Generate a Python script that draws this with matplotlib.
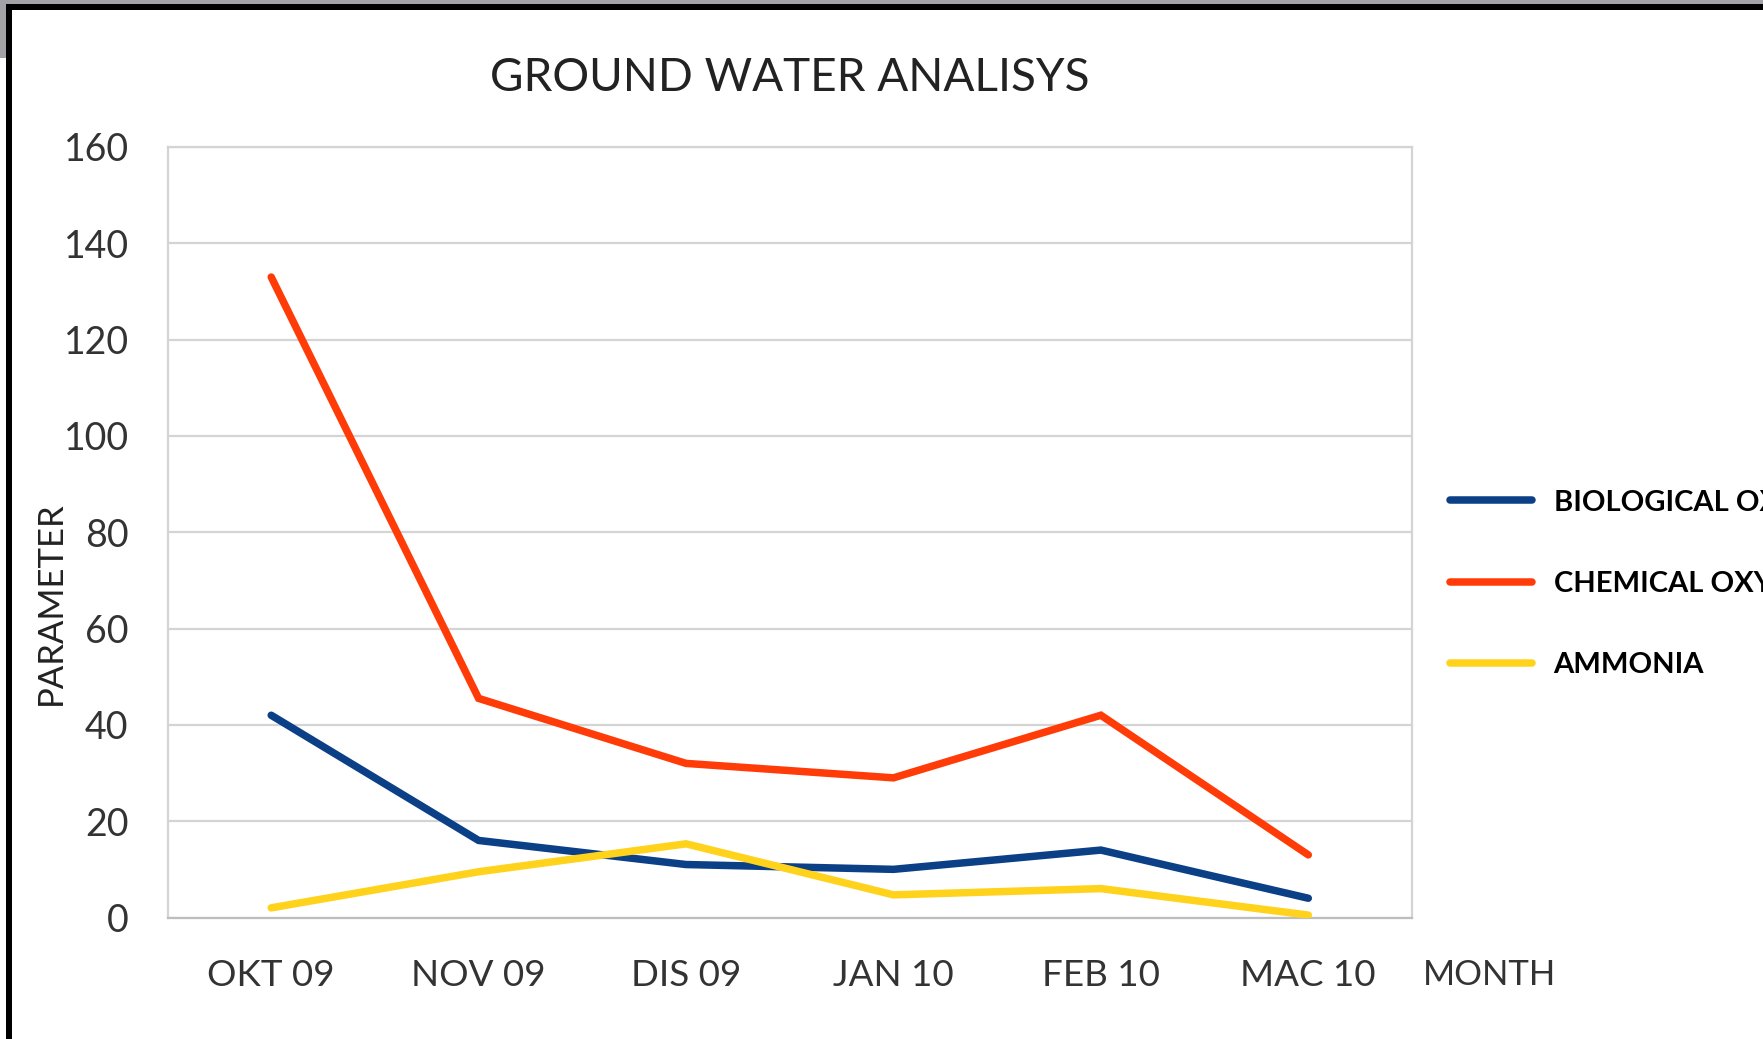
import numpy as np
import matplotlib
matplotlib.use("Agg")
import matplotlib.pyplot as plt
from matplotlib.patches import Rectangle

# Data
months = ["OKT 09", "NOV 09", "DIS 09", "JAN 10", "FEB 10", "MAC 10"]
bod = [42, 16, 11, 10, 14, 4]
cod = [133, 45.5, 32, 29, 42, 13]
ammonia = [2, 9.5, 15.3, 4.7, 6, 0.5]
series_labels = ["BIOLOGICAL OXYGEN DEMAND", "CHEMICAL OXYGEN DEMAND", "AMMONIA"]
y_ticks = [0, 20, 40, 60, 80, 100, 120, 140, 160]

colours = ["#0b3f86", "#ff3c07", "#ffd21c"]

plt.rcParams['font.family'] = ['Lato', 'DejaVu Sans']

W, H = 1763, 1039
fig = plt.figure(figsize=(W / 100, H / 100), dpi=100)
fig.patch.set_facecolor("white")

# screenshot frame: grey strip above, black border top and left
fig.patches.append(Rectangle((0, 1 - 4 / H), 1, 4 / H, transform=fig.transFigure,
                             facecolor="#a3a3a7", edgecolor="none", zorder=0))
fig.patches.append(Rectangle((0, 1 - 58 / H), 6 / W, 58 / H, transform=fig.transFigure,
                             facecolor="#a3a3a7", edgecolor="none", zorder=0))
fig.patches.append(Rectangle((6 / W, 1 - 10 / H), 1, 6 / H, transform=fig.transFigure,
                             facecolor="black", edgecolor="none", zorder=1))
fig.patches.append(Rectangle((6 / W, 0), 6 / W, 1 - 4 / H, transform=fig.transFigure,
                             facecolor="black", edgecolor="none", zorder=1))

left, right = 167.5 / W, 1412 / W
bottom, top = 1 - 917.5 / H, 1 - 147 / H
ax = fig.add_axes([left, bottom, right - left, top - bottom])

x = np.arange(len(months))
lines = []
for vals, col, lab in zip([bod, cod, ammonia], colours, series_labels):
    ln, = ax.plot(x, vals, color=col, lw=5.4, solid_capstyle="round",
                  solid_joinstyle="miter", label=lab, zorder=3)
    lines.append(ln)

ax.set_xlim(-0.5, len(months) - 0.5)
ax.set_ylim(0, 160)
ax.set_yticks(y_ticks)
ax.set_xticks(x)
ax.set_xticklabels(months)
ax.tick_params(axis="y", length=0, pad=28, labelsize=27, labelcolor="#333333")
ax.tick_params(axis="x", length=0, pad=30, labelsize=26.5, labelcolor="#333333")
ax.grid(axis="y", color="#d4d4d4", lw=1.6, zorder=1)
for s in ax.spines.values():
    s.set_color("#d4d4d4")
    s.set_linewidth(1.6)
ax.spines["bottom"].set_color("#bdbdbd")

ax.set_title("GROUND WATER ANALISYS", fontsize=33, color="#222222", pad=40)

fig.text(1490 / W, 1 - 975 / H, "MONTH", fontsize=25, color="#333333",
         ha="center", va="center")
fig.text(51 / W, 1 - 603 / H, "PARAMETER", fontsize=25, color="#222222",
         rotation=90, ha="center", va="center")

# legend runs past the right edge, as in the screenshot
leg = fig.legend(handles=lines, loc="center left", bbox_to_anchor=(1450 / W, 1 - 584 / H),
                 bbox_transform=fig.transFigure, frameon=False, prop={"weight": "bold", "size": 21},
                 handlelength=2.8, handletextpad=0.75, labelspacing=1.9,
                 borderpad=0, borderaxespad=0)
for t in leg.get_texts():
    t.set_color("black")

fig.savefig("out.png", dpi=100)
